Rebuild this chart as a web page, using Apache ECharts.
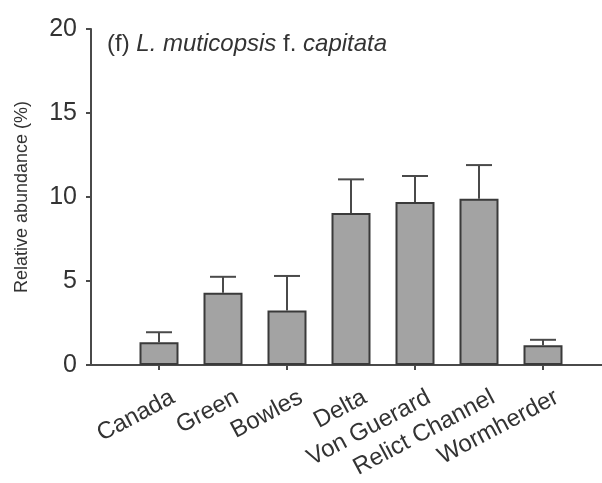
<!DOCTYPE html>
<html>
<head>
<meta charset="utf-8">
<script src="https://cdn.jsdelivr.net/npm/echarts@6/dist/echarts.min.js"></script>
<style>
  html, body { margin: 0; padding: 0; background: #fff; }
  #chart { width: 602px; height: 483px; }
</style>
</head>
<body>
<div id="chart"></div>
<script>
// Sites sampled and mean relative abundance with upper standard error
const sites = ['Canada', 'Green', 'Bowles', 'Delta', 'Von Guerard', 'Relict Channel', 'Wormherder'];
const meanAbundance = [1.35, 4.3, 3.25, 9.05, 9.7, 9.9, 1.18];
const stdError = [0.6, 0.95, 2.05, 2.0, 1.55, 2.0, 0.32];
const yTicks = [0, 5, 10, 15, 20];

const axisColor = '#4a4a4a';
const textColor = '#333';
const fontFamily = 'Liberation Sans, Arial, sans-serif';

const chart = echarts.init(document.getElementById('chart'));

const errorData = sites.map((s, i) => [i, meanAbundance[i], stdError[i]]);

const plotTop = 29, plotBottom = 118;

chart.setOption({
  animation: false,
  backgroundColor: '#fff',
  title: {
    left: 102,
    top: 27,
    text: '(f) {i|L. muticopsis} f. {i|capitata}',
    textStyle: {
      fontFamily: fontFamily,
      fontSize: 24,
      fontWeight: 'normal',
      color: textColor,
      rich: {
        i: { fontFamily: fontFamily, fontSize: 24, fontStyle: 'italic', color: textColor }
      }
    }
  },
  grid: [
    // frame: y axis and full-width x axis line
    { left: 91, right: 0, top: plotTop, bottom: plotBottom },
    // bars and category ticks
    { left: 127, width: 448, top: plotTop, bottom: plotBottom },
    // slanted site names, set slightly right of their ticks
    { left: 141, width: 448, top: plotTop, bottom: plotBottom }
  ],
  xAxis: [
    {
      gridIndex: 0, type: 'value', min: 0, max: 1,
      axisLine: { show: true, lineStyle: { color: axisColor, width: 2 } },
      axisTick: { show: false }, axisLabel: { show: false }, splitLine: { show: false }
    },
    {
      gridIndex: 1, type: 'category', data: sites,
      axisLine: { show: false },
      axisTick: { show: true, alignWithLabel: true, length: 5, lineStyle: { color: axisColor, width: 2 } },
      axisLabel: { show: false },
      splitLine: { show: false }
    },
    {
      gridIndex: 2, type: 'category', data: sites,
      axisLine: { show: false }, axisTick: { show: false }, splitLine: { show: false },
      axisLabel: {
        rotate: 28, fontSize: 24, color: textColor, fontFamily: fontFamily, margin: 31, interval: 0
      }
    }
  ],
  yAxis: [
    {
      gridIndex: 0, type: 'value', min: 0, max: 20, interval: 5,
      name: 'Relative abundance (%)', nameLocation: 'middle', nameGap: 60,
      nameTextStyle: { fontSize: 18, color: textColor, fontFamily: fontFamily },
      axisLine: { show: true, lineStyle: { color: axisColor, width: 2 } },
      axisTick: { show: true, length: 5, lineStyle: { color: axisColor, width: 2 } },
      axisLabel: {
        fontSize: 25, color: textColor, fontFamily: fontFamily, margin: 14,
        formatter: v => (yTicks.includes(v) ? String(v) : '')
      },
      splitLine: { show: false }
    },
    { gridIndex: 1, type: 'value', min: 0, max: 20, show: false, splitLine: { show: false } },
    { gridIndex: 2, type: 'value', min: 0, max: 20, show: false, splitLine: { show: false } }
  ],
  series: [
    {
      type: 'bar', xAxisIndex: 1, yAxisIndex: 1,
      data: meanAbundance, barWidth: 39,
      itemStyle: { color: '#a3a3a3', borderColor: '#3a3a3a', borderWidth: 2 },
      z: 3
    },
    {
      type: 'custom', xAxisIndex: 1, yAxisIndex: 1,
      data: errorData, z: 2,
      renderItem: function (params, api) {
        const idx = api.value(0);
        const base = api.coord([idx, api.value(1)]);
        const top = api.coord([idx, api.value(1) + api.value(2)]);
        const half = 13;
        const style = { stroke: '#4a4a4a', lineWidth: 2 };
        return {
          type: 'group',
          children: [
            { type: 'line', shape: { x1: base[0], y1: base[1], x2: top[0], y2: top[1] }, style: style },
            { type: 'line', shape: { x1: top[0] - half, y1: top[1], x2: top[0] + half, y2: top[1] }, style: style }
          ]
        };
      }
    }
  ]
});
</script>
</body>
</html>
